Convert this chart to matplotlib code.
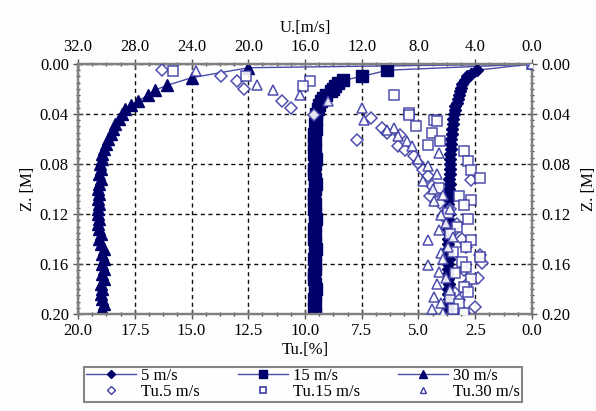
import matplotlib
matplotlib.use("Agg")
import matplotlib.pyplot as plt
from matplotlib.lines import Line2D
from matplotlib.ticker import MultipleLocator, FormatStrFormatter

plt.rcParams['font.family'] = ['Liberation Serif', 'DejaVu Serif']
plt.rcParams['font.size'] = 12

# ---------------- data ----------------
# mean velocity profiles U [m/s] vs Z [m]
z_u5 = [0.000, 0.005, 0.008, 0.010, 0.013, 0.016, 0.019, 0.022, 0.025, 0.028, 0.031, 0.034, 0.037, 0.040, 0.044,
        0.048, 0.052, 0.056, 0.060, 0.064, 0.068, 0.072, 0.076, 0.080, 0.084, 0.088, 0.092, 0.096, 0.100,
        0.104, 0.108, 0.112, 0.116, 0.120, 0.124, 0.128, 0.132, 0.136, 0.140, 0.144, 0.148, 0.152, 0.156,
        0.160, 0.164, 0.168, 0.172, 0.176, 0.180, 0.184, 0.188, 0.192, 0.196, 0.200]
u5 = [0.0, 3.9, 4.3, 4.6, 4.75, 4.9, 5.0, 5.1, 5.15, 5.25, 5.3, 5.4, 5.45, 5.5, 5.55,
      5.6, 5.65, 5.65, 5.7, 5.7, 5.7, 5.75, 5.75, 5.8, 5.8, 5.8, 5.85, 5.8, 5.85,
      5.9, 5.85, 5.9, 5.9, 5.85, 5.9, 5.95, 5.9, 5.85, 5.9, 5.9, 5.95, 5.9, 5.85,
      5.9, 5.9, 5.95, 5.9, 5.85, 5.9, 5.9, 5.85, 5.9, 5.85, 5.9]

z_u15 = [0.000, 0.005, 0.010, 0.013, 0.015, 0.018, 0.020, 0.022, 0.025, 0.027, 0.030, 0.033, 0.036, 0.040, 0.044,
         0.048, 0.052, 0.056, 0.060, 0.064, 0.068, 0.072, 0.076, 0.080, 0.084, 0.088, 0.092, 0.096, 0.100,
         0.104, 0.108, 0.112, 0.116, 0.120, 0.124, 0.128, 0.132, 0.136, 0.140, 0.144, 0.148, 0.152, 0.156,
         0.160, 0.164, 0.168, 0.172, 0.176, 0.180, 0.184, 0.188, 0.192, 0.196, 0.200]
u15 = [0.0, 10.2, 12.0, 13.3, 13.7, 13.9, 14.0, 14.2, 14.5, 14.7, 14.9, 15.0, 15.1, 15.2, 15.25,
       15.3, 15.2, 15.35, 15.3, 15.4, 15.3, 15.35, 15.25, 15.3, 15.4, 15.35, 15.3, 15.25, 15.3,
       15.35, 15.4, 15.3, 15.35, 15.3, 15.25, 15.3, 15.35, 15.3, 15.4, 15.3, 15.25, 15.3, 15.35,
       15.3, 15.3, 15.4, 15.35, 15.3, 15.25, 15.3, 15.35, 15.3, 15.4, 15.3]

z_u30 = [0.000, 0.003, 0.011, 0.017, 0.021, 0.025, 0.030, 0.033, 0.036, 0.040, 0.044,
         0.048, 0.052, 0.056, 0.060, 0.064, 0.068, 0.072, 0.076, 0.080, 0.084, 0.088, 0.092, 0.096, 0.100,
         0.104, 0.108, 0.112, 0.116, 0.120, 0.124, 0.128, 0.132, 0.136, 0.140, 0.144, 0.148, 0.152, 0.156,
         0.160, 0.164, 0.168, 0.172, 0.176, 0.180, 0.184, 0.188, 0.192, 0.196, 0.200]
u30 = [0.0, 20.0, 24.0, 25.7, 26.6, 27.1, 27.8, 28.3, 28.7, 28.9, 29.1,
       29.4, 29.5, 29.7, 29.9, 30.0, 30.2, 30.3, 30.3, 30.45, 30.4, 30.5, 30.4, 30.5, 30.6,
       30.5, 30.6, 30.5, 30.6, 30.6, 30.5, 30.6, 30.5, 30.4, 30.5, 30.4, 30.2, 30.3, 30.2,
       30.3, 30.2, 30.3, 30.2, 30.4, 30.3, 30.4, 30.3, 30.2, 30.3, 30.2]

# turbulence intensity Tu [%] vs Z [m]
z_tu5 = [0.005, 0.010, 0.014, 0.020, 0.030, 0.035, 0.041, 0.043, 0.051, 0.055, 0.057, 0.061, 0.066, 0.069,
         0.074, 0.079, 0.085, 0.090, 0.093, 0.098, 0.102, 0.106, 0.111, 0.116, 0.122, 0.128, 0.134, 0.140,
         0.146, 0.153, 0.159, 0.165, 0.171, 0.177, 0.183, 0.189, 0.194, 0.199]
tu5 = [16.3, 13.7, 13.0, 12.7, 11.0, 10.6, 9.6, 7.1, 6.6, 6.4, 5.8, 7.7, 5.9, 5.6,
       5.2, 5.0, 4.8, 4.6, 2.7, 4.4, 4.2, 4.5, 4.05, 3.6, 3.9, 3.3, 3.5, 3.1,
       2.9, 2.3, 2.2, 3.0, 2.4, 2.9, 3.4, 3.2, 2.5, 3.0]

z_tu15 = [0.000, 0.006, 0.010, 0.014, 0.018, 0.025, 0.039, 0.041, 0.045, 0.046, 0.050, 0.055, 0.062, 0.065,
          0.070, 0.078, 0.085, 0.091, 0.099, 0.106, 0.109, 0.113, 0.119, 0.124, 0.130, 0.136, 0.141, 0.146,
          0.150, 0.154, 0.158, 0.162, 0.167, 0.172, 0.178, 0.182, 0.187, 0.192, 0.196, 0.199]
tu15 = [0.0, 15.8, 12.6, 9.8, 10.1, 6.1, 5.4, 5.4, 4.3, 4.2, 5.1, 4.4, 4.05, 4.6,
        3.0, 2.8, 2.7, 2.3, 4.1, 3.2, 2.7, 3.0, 3.7, 2.8, 3.3, 3.6, 2.7, 2.9,
        3.5, 2.3, 3.1, 2.9, 3.4, 2.7, 3.0, 2.8, 3.6, 3.2, 3.5, 3.0]

z_tu30 = [0.000, 0.006, 0.017, 0.021, 0.025, 0.030, 0.035, 0.045, 0.051, 0.053, 0.058, 0.062, 0.066, 0.071,
          0.076, 0.082, 0.088, 0.094, 0.100, 0.105, 0.110, 0.116, 0.121, 0.127, 0.133, 0.138, 0.141, 0.146,
          0.151, 0.156, 0.161, 0.166, 0.171, 0.176, 0.181, 0.186, 0.191, 0.196, 0.199]
tu30 = [0.0, 14.8, 12.1, 11.4, 10.2, 9.0, 7.5, 7.4, 6.1, 6.4, 5.9, 5.5, 5.3, 4.1,
        5.0, 4.6, 4.2, 4.8, 4.35, 3.9, 4.3, 3.6, 4.0, 3.8, 4.1, 3.5, 4.6, 3.7,
        4.0, 3.9, 4.6, 4.1, 3.8, 4.2, 3.6, 4.3, 4.0, 4.4, 3.9]

u_ticks = [32, 28, 24, 20, 16, 12, 8, 4, 0]
tu_ticks = [20, 17.5, 15, 12.5, 10, 7.5, 5, 2.5, 0]
z_ticks = [0.00, 0.04, 0.08, 0.12, 0.16, 0.20]

# ---------------- styling ----------------
NAVY = '#00006b'
LINEC = '#4a4aa8'
OPENC = '#3c3ca6'
SPINE = '#808080'

fig = plt.figure(figsize=(5.96, 4.11), dpi=100)
fig.patch.set_facecolor('#fdfdfd')
ax = fig.add_axes([0.1309, 0.2360, 0.7617, 0.6083])   # Tu (bottom) axis, on top layer
ax2 = ax.twiny()                                          # U (top) axis, lower layer
ax.set_zorder(2)
ax2.set_zorder(1)
ax.patch.set_visible(False)
ax2.patch.set_visible(True)
ax2.patch.set_facecolor('white')

# U profiles on the top axis
for zz, uu, mk, ms in [(z_u5, u5, 'D', 6), (z_u15, u15, 's', 8), (z_u30, u30, '^', 9)]:
    ax2.plot(uu, zz, color=LINEC, lw=1.0, zorder=2)
    ax2.plot(uu[1:], zz[1:], ls='none', marker=mk, ms=ms, color=NAVY, mec=NAVY, zorder=3)

# Tu profiles on the bottom axis
for zz, tt, mk in [(z_tu5, tu5, 'D'), (z_tu15, tu15, 's'), (z_tu30, tu30, '^')]:
    ax.plot(tt, zz, ls='none', marker=mk, ms=7.5 if mk != 'D' else 6.5, mfc='white', mec=OPENC, mew=1.1,
            alpha=0.9, zorder=3)

# axes limits and ticks
ax.set_xlim(20, 0)
ax.set_ylim(0.20, 0.00)
ax2.set_xlim(32, 0)

ax.set_xticks(tu_ticks)
ax.xaxis.set_major_formatter(FormatStrFormatter('%.1f'))
ax.xaxis.set_minor_locator(MultipleLocator(0.625))
ax.set_yticks(z_ticks)
ax.yaxis.set_major_formatter(FormatStrFormatter('%.2f'))
ax.yaxis.set_minor_locator(MultipleLocator(0.005))
ax2.set_xticks(u_ticks)
ax2.xaxis.set_major_formatter(FormatStrFormatter('%.1f'))
ax2.xaxis.set_minor_locator(MultipleLocator(1))

ax.tick_params(axis='x', which='both', top=False, bottom=True, direction='inout', colors='black')
ax.tick_params(axis='y', which='both', left=True, right=True, labelleft=True, labelright=True,
               direction='inout')
ax.tick_params(which='major', length=7, width=1, color='#555555', pad=3, labelsize=12)
ax.tick_params(which='minor', length=3.5, width=1, color='#555555')
ax2.tick_params(axis='x', which='major', length=7, width=1, color='#555555', direction='inout', labelsize=12, pad=3)
ax2.tick_params(axis='x', which='minor', length=3.5, width=1, color='#555555', direction='inout')

# grid drawn on the lower layer so the filled markers cover it
ax2.yaxis.set_visible(True)
ax2.tick_params(axis='y', which='both', left=False, right=False, labelleft=False, labelright=False)
ax2.grid(True, which='major', color='#111111', ls=(0, (3, 2.5)), lw=1.0)
ax.grid(False)

for a in (ax, ax2):
    for s in a.spines.values():
        s.set_color(SPINE)
        s.set_linewidth(1.6)

ax.set_xlabel('Tu.[%]', labelpad=2)
ax2.set_xlabel('U.[m/s]', labelpad=5)
ax.set_ylabel('Z. [M]', labelpad=3)
ax.text(1.125, 0.5, 'Z. [M]', rotation=90, transform=ax.transAxes, ha='center', va='center')

handles = [
    Line2D([], [], color=LINEC, lw=1.0, marker='D', ms=4, mfc=NAVY, mec=NAVY),
    Line2D([], [], ls='none', marker='D', ms=4, mfc='white', mec=OPENC, mew=1.0),
    Line2D([], [], color=LINEC, lw=1.0, marker='s', ms=6, mfc=NAVY, mec=NAVY),
    Line2D([], [], ls='none', marker='s', ms=5, mfc='white', mec=OPENC, mew=1.2),
    Line2D([], [], color=LINEC, lw=1.0, marker='^', ms=6, mfc=NAVY, mec=NAVY),
    Line2D([], [], ls='none', marker='^', ms=5, mfc='white', mec=OPENC, mew=1.0),
]
labels = ['5 m/s', 'Tu.5 m/s', '15 m/s', 'Tu.15 m/s', '30 m/s', 'Tu.30 m/s']
leg = fig.legend(handles, labels, loc='lower center', bbox_to_anchor=(0.508, 0.002), ncol=3,
                 frameon=True, fancybox=False, edgecolor='#666666', handlelength=3.0,
                 handletextpad=0.3, columnspacing=2.3, borderpad=0.1, labelspacing=0.0,
                 fontsize=12)
leg.get_frame().set_linewidth(1.5)

fig.savefig('out.png', dpi=100, facecolor=fig.get_facecolor())
